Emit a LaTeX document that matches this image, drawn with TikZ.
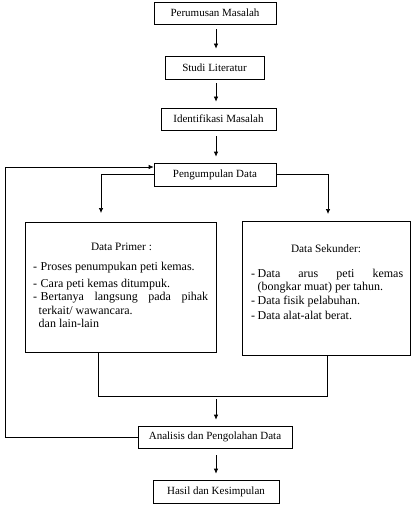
\documentclass[tikz,border=0pt]{standalone}
\usepackage{fontspec}
\setmainfont{Liberation Serif}
\usetikzlibrary{arrows.meta,calc}
\begin{document}
\begin{tikzpicture}[x=1pt,y=-1pt,
  box/.style={draw,line width=0.7pt,inner sep=0pt,font=\fontsize{11}{13}\selectfont},
  arr/.style={line width=0.7pt,-{Latex[length=5pt,width=4.5pt]}},
  ln/.style={line width=0.7pt},
  item/.style={anchor=mid west,inner sep=0pt,font=\fontsize{12}{14}\selectfont},
  ttl/.style={anchor=mid,inner sep=0pt,font=\fontsize{11.3}{13}\selectfont}]
\useasboundingbox (0,0) rectangle (412,508);

% main boxes
\node[box,minimum width=122,minimum height=22] (b1) at (215,13) {Perumusan Masalah};
\node[box,minimum width=99,minimum height=23] (b2) at (214.5,67.5) {Studi Literatur};
\node[box,minimum width=115,minimum height=22] (b3) at (218.5,119) {Identifikasi Masalah};
\node[box,minimum width=122,minimum height=23] (b4) at (215,174.5) {Pengumpulan Data};
\node[box,minimum width=191,minimum height=130] (pri) at (120.5,287.5) {};
\node[box,minimum width=168,minimum height=134] (sek) at (326.5,288) {};
\node[box,minimum width=154,minimum height=22] (ana) at (215,437) {Analisis dan Pengolahan Data};
\node[box,minimum width=126,minimum height=23] (has) at (216,491.5) {Hasil dan Kesimpulan};

% Data Primer content
\node[ttl] (pt) at (121.5,248) {Data Primer :};
\node[item] (pd1) at (33,268) {-};
\node[item] (p1) at (40.5,268) {Proses penumpukan peti kemas.};
\node[item] (pd2) at (33,285) {-};
\node[item] (p2) at (40.5,285) {Cara peti kemas ditumpuk.};
\node[item] (pd3) at (33,298.5) {-};
\node[item] (p3) at (40.5,298.5) {\makebox[167.5pt][s]{Bertanya langsung pada pihak}};
\node[item] (p4) at (38.5,312) {terkait/ wawancara.};
\node[item] (p5) at (38.5,325) {dan lain-lain};

% Data Sekunder content
\node[ttl] (st) at (326,250) {Data Sekunder:};
\node[item] (sd1) at (251,275) {-};
\node[item] (s1) at (257.5,275) {\makebox[145.5pt][s]{Data arus peti kemas}};
\node[item] (s2) at (257.5,288.5) {(bongkar muat) per tahun.};
\node[item] (sd3) at (251,302.5) {-};
\node[item] (s3) at (257.5,302.5) {Data fisik pelabuhan.};
\node[item] (sd4) at (251,317) {-};
\node[item] (s4) at (257.5,317) {Data alat-alat berat.};

% coordinates for connectors
\coordinate (pl) at (101,213);
\coordinate (pr) at (328,214);
\coordinate (jl) at (98,396);
\coordinate (jr) at (327,396);
\coordinate (ja) at (216,399);
\coordinate (fb1) at (5,437);
\coordinate (fb2) at (5,167);

% vertical arrows
\draw[arr] ($(b1.south)+(1,5)$) -- ($(b2.north)+(1.5,-7)$);
\draw[arr] ($(b2.south)+(1.5,4)$) -- ($(b3.north)+(-2.5,-6)$);
\draw[arr] ($(b3.south)+(-2.5,6)$) -- ($(b4.north)+(1,-6)$);
\draw[arr] (ja) -- ($(ana.north)+(1,-6)$);
\draw[arr] ($(ana.south)+(1,7)$) -- ($(has.north)+(0,-6)$);

% branches
\draw[arr] (b4.west) -| (pl);
\draw[arr] (b4.east) -| (pr);

% join
\draw[ln] (jl |- pri.south) -- (jl) -- (jr) -- (jr |- sek.south);

% feedback loop
\draw[arr] (ana.west) -- (fb1) -- (fb2) -- (fb2 -| b4.west);
\end{tikzpicture}
\end{document}
